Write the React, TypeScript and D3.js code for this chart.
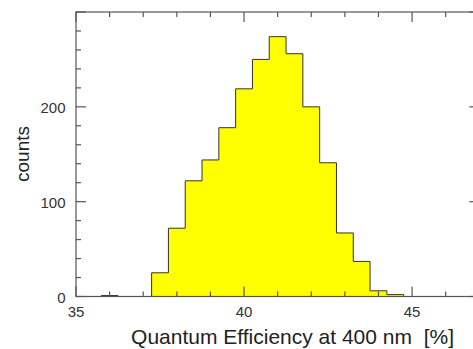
import { useEffect, useRef } from "react";
import * as d3 from "d3";

// histogram bins (lower edge, width 0.5) and counts
const binLow = [35.75, 36.25, 36.75, 37.25, 37.75, 38.25, 38.75, 39.25, 39.75, 40.25, 40.75, 41.25, 41.75, 42.25, 42.75, 43.25, 43.75, 44.25];
const counts = [1, 0, 0, 25, 72, 122, 144, 178, 219, 250, 274, 256, 200, 141, 67, 37, 6, 2];
const binWidth = 0.5;

const xTicks = [35, 40, 45];
const yTicks = [0, 100, 200];

const FONT = "'Liberation Sans', Arial, Helvetica, sans-serif";

export default function App ()
{
    const svgRef = useRef<SVGSVGElement>( null );

    useEffect( () =>
    {
        if ( !svgRef.current ) return;
        const svg = d3.select( svgRef.current );
        svg.selectAll( "*" ).remove();

        const x = d3.scaleLinear().domain( [ 35, 47 ] ).range( [ 76, 479.3 ] );
        const y = d3.scaleLinear().domain( [ 0, 300 ] ).range( [ 296.5, 12 ] );
        const [ x0, x1 ] = x.range();
        const [ y0, y1 ] = y.range();
        const frame = "#555";

        // histogram
        const pts: [ number, number ][] = [];
        binLow.forEach( ( lo, i ) => pts.push( [ lo, counts[ i ] ] ) );
        pts.push( [ binLow[ binLow.length - 1 ] + binWidth, 0 ] );

        const area = d3.area<[ number, number ]>().x( ( d ) => x( d[ 0 ] ) ).y0( y( 0 ) ).y1( ( d ) => y( d[ 1 ] ) ).curve( d3.curveStepAfter );
        const line = d3.line<[ number, number ]>().x( ( d ) => x( d[ 0 ] ) ).y( ( d ) => y( d[ 1 ] ) ).curve( d3.curveStepAfter );
        const outline: [ number, number ][] = [ [ binLow[ 0 ], 0 ], ...pts ];

        svg.append( "path" ).datum( pts ).attr( "d", area ).attr( "fill", "#ffff00" );
        svg.append( "path" ).datum( outline ).attr( "d", line ).attr( "fill", "none" )
            .attr( "stroke", "#333" ).attr( "stroke-width", 1 );

        // frame
        svg.append( "rect" ).attr( "x", x0 ).attr( "y", y1 ).attr( "width", x1 - x0 ).attr( "height", y0 - y1 )
            .attr( "fill", "none" ).attr( "stroke", frame ).attr( "stroke-width", 1.2 );

        // ticks on all four sides, pointing inward
        const xt = d3.range( 35, 48, 1 );
        const yt = d3.range( 0, 301, 20 );
        const tk = svg.append( "g" ).attr( "stroke", frame ).attr( "stroke-width", 1.2 );
        xt.forEach( ( v ) =>
        {
            const len = v % 5 === 0 ? 10 : 5;
            tk.append( "line" ).attr( "x1", x( v ) ).attr( "x2", x( v ) ).attr( "y1", y0 ).attr( "y2", y0 - len );
            tk.append( "line" ).attr( "x1", x( v ) ).attr( "x2", x( v ) ).attr( "y1", y1 ).attr( "y2", y1 + len );
        } );
        yt.forEach( ( v ) =>
        {
            const len = v % 100 === 0 ? 10 : 5;
            tk.append( "line" ).attr( "x1", x0 ).attr( "x2", x0 + len ).attr( "y1", y( v ) ).attr( "y2", y( v ) );
            tk.append( "line" ).attr( "x1", x1 ).attr( "x2", x1 - len ).attr( "y1", y( v ) ).attr( "y2", y( v ) );
        } );

        // tick labels
        svg.append( "g" ).selectAll( "text" ).data( xTicks ).join( "text" )
            .attr( "x", ( d ) => x( d ) ).attr( "y", 317 ).attr( "text-anchor", "middle" )
            .attr( "fill", "#333" ).style( "font-size", "15px" ).style( "font-family", FONT )
            .text( ( d ) => d );
        svg.append( "g" ).selectAll( "text" ).data( yTicks ).join( "text" )
            .attr( "x", 65.5 ).attr( "y", ( d ) => y( d ) + 6 ).attr( "text-anchor", "end" )
            .attr( "fill", "#333" ).style( "font-size", "15px" ).style( "font-family", FONT )
            .text( ( d ) => d );

        // axis titles
        svg.append( "text" ).attr( "x", 454 ).attr( "y", 344 ).attr( "text-anchor", "end" )
            .attr( "fill", "#222" ).style( "font-size", "21px" ).style( "font-family", FONT )
            .attr( "xml:space", "preserve" ).style( "white-space", "pre" )
            .text( "Quantum Efficiency at 400 nm  [%]" );
        svg.append( "text" ).attr( "transform", "translate(29,182) rotate(-90)" ).attr( "text-anchor", "start" )
            .attr( "fill", "#222" ).style( "font-size", "19px" ).style( "font-family", FONT )
            .text( "counts" );
    }, [] );

    return (
        <svg ref={ svgRef } width={ 473 } height={ 349 }
            style={ { position: "absolute", left: 0, top: 0, background: "#fff" } } />
    );
}
